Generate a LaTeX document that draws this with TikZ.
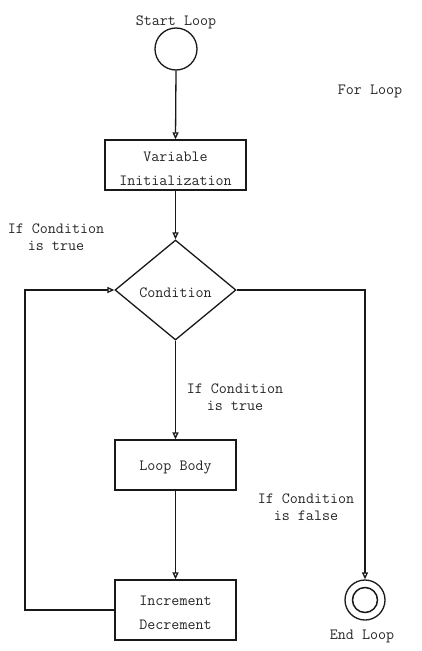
\documentclass[tikz,border=0pt]{standalone}
\usetikzlibrary{shapes.geometric,arrows.meta}
\begin{document}
\begin{tikzpicture}[x=1pt,y=-1pt,
  every node/.style={font=\ttfamily\fontsize{15.6pt}{24pt}\selectfont, text=black!85, align=center},
  boxst/.style={draw=black!90, line width=1.3pt, inner sep=0pt},
  lbl/.style={font=\ttfamily\fontsize{15.6pt}{17pt}\selectfont},
  ln/.style={line width=1.3pt, draw=black!90},
  arr/.style={ln, -{Triangle[open,length=7pt,width=6pt]}}]
\useasboundingbox (0,0) rectangle (421,651);
\node (startlbl) at (176,22) {Start Loop};
\node[circle, draw=black!90, line width=1.3pt, minimum size=42pt, inner sep=0pt] (start) at (176,49) {};
\node (forlbl) at (370,91) {For Loop};
\node[boxst, minimum width=141pt, minimum height=50pt] (init) at (175.5,165) {};
\node (inittxt) at (175.5,169) {Variable\\Initialization};
\node[diamond, draw=black!90, line width=1.3pt, minimum width=121pt, minimum height=100pt, inner sep=0pt] (cond) at (175.5,290) {};
\node (condtxt) at (175.5,293) {Condition};
\node[boxst, minimum width=121pt, minimum height=50pt] (body) at (175.5,465) {};
\node (bodytxt) at (175.5,468) {Loop Body};
\node[boxst, minimum width=121pt, minimum height=60pt] (inc) at (175.5,610) {};
\node (inctxt) at (175.5,613) {Increment\\Decrement};
\node[circle, draw=black!90, line width=1.3pt, minimum size=40pt, inner sep=0pt] (end) at (365,600) {};
\node[circle, draw=black!90, line width=1.5pt, minimum size=25pt, inner sep=0pt] (endin) at (365,600) {};
\node (endlbl) at (362,636) {End Loop};
\node[lbl] (lbltrue1) at (56,237) {If Condition\\is true};
\node[lbl] (lbltrue2) at (235,397) {If Condition\\is true};
\node[lbl] (lblfalse) at (306,507) {If Condition\\is false};
\coordinate (lb1) at (25,610);
\coordinate (lb2) at (25,290);
\coordinate (rb1) at (365,290);
\draw[arr] (start.south) -- (init.north);
\draw[arr] (init.south) -- (cond.north);
\draw[arr] (cond.south) -- (body.north);
\draw[arr] (body.south) -- (inc.north);
\draw[arr] (inc.west) -- (lb1) -- (lb2) -- (cond.west);
\draw[arr] (cond.east) -- (rb1) -- (end.north);
\end{tikzpicture}
\end{document}
